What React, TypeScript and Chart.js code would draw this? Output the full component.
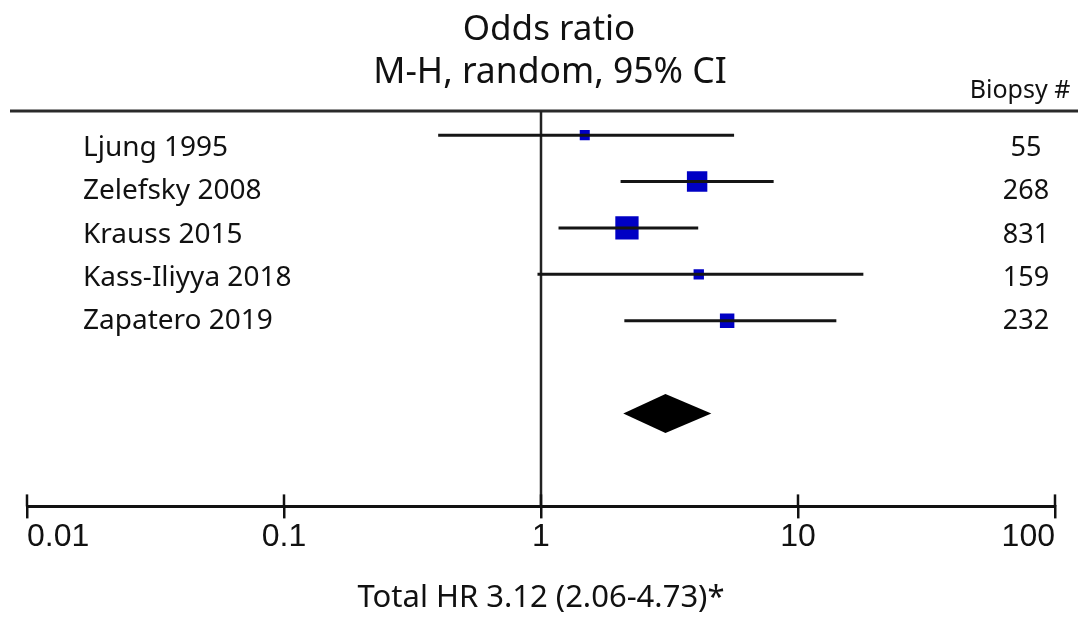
import React, { useEffect, useRef } from "react";
import { Chart, registerables } from "chart.js";

Chart.register(...registerables);

// ---- data ----
const studies = ["Ljung 1995", "Zelefsky 2008", "Krauss 2015", "Kass-Iliyya 2018", "Zapatero 2019"];
const oddsRatio = [1.48, 4.05, 2.16, 4.11, 5.3];
const ciLow = [0.398, 2.04, 1.17, 0.969, 2.11];
const ciHigh = [5.64, 8.04, 4.09, 17.96, 14.1];
const weights = [7.3, 30.3, 39.4, 7.8, 15.2];
const biopsies = ["55", "268", "831", "159", "232"];
const pooledEstimate = 3.05;
const pooledLow = 2.09;
const pooledHigh = 4.6;
const tickValues = [0.01, 0.1, 1, 10, 100];
const tickLabels = ["0.01", "0.1", "1", "10", "100"];
const titleLines = ["Odds ratio", "M-H, random, 95% CI"];
const columnHeader = "Biopsy #";
const footerText = "Total HR 3.12 (2.06-4.73)*";

const TEXT_FONT = "'Noto Sans', 'Open Sans', sans-serif";
const AXIS_FONT = "'Liberation Sans', Arial, sans-serif";
const POOLED_ROW = 6;

const forestPlugin = {
  id: "forestDecor",
  beforeDatasetsDraw(chart: any) {
    const { ctx, chartArea, scales } = chart;
    const x = scales.x;
    ctx.save();
    // top rule
    ctx.strokeStyle = "#2a2a2a";
    ctx.lineWidth = 3;
    ctx.beginPath();
    ctx.moveTo(10, chartArea.top);
    ctx.lineTo(chart.width, chartArea.top);
    ctx.stroke();
    // line of no effect
    const x1 = x.getPixelForValue(1);
    ctx.strokeStyle = "#222";
    ctx.lineWidth = 2.5;
    ctx.beginPath();
    ctx.moveTo(x1, chartArea.top);
    ctx.lineTo(x1, chartArea.bottom);
    ctx.stroke();
    // upper halves of axis ticks
    ctx.lineWidth = 2.5;
    ctx.strokeStyle = "#111";
    tickValues.forEach((v) => {
      const px = x.getPixelForValue(v);
      ctx.beginPath();
      ctx.moveTo(px, chartArea.bottom - 12);
      ctx.lineTo(px, chartArea.bottom);
      ctx.stroke();
    });
    ctx.restore();
  },
  afterDatasetsDraw(chart: any) {
    const { ctx, scales } = chart;
    const x = scales.x;
    const y = scales.y;
    ctx.save();
    // pooled diamond
    const yc = y.getPixelForValue(POOLED_ROW);
    const yt = y.getPixelForValue(POOLED_ROW - 0.42);
    const yb = y.getPixelForValue(POOLED_ROW + 0.42);
    ctx.fillStyle = "#000";
    ctx.beginPath();
    ctx.moveTo(x.getPixelForValue(pooledLow), yc);
    ctx.lineTo(x.getPixelForValue(pooledEstimate), yt);
    ctx.lineTo(x.getPixelForValue(pooledHigh), yc);
    ctx.lineTo(x.getPixelForValue(pooledEstimate), yb);
    ctx.closePath();
    ctx.fill();

    ctx.fillStyle = "#111";
    ctx.textBaseline = "alphabetic";
    // title
    ctx.textAlign = "center";
    ctx.font = `35px ${TEXT_FONT}`;
    ctx.fillText(titleLines[0], 549, 40);
    ctx.font = `35.5px ${TEXT_FONT}`;
    ctx.fillText(titleLines[1], 550, 83);
    // column header
    ctx.font = `25px ${TEXT_FONT}`;
    ctx.fillText(columnHeader, 1020, 98);
    // study labels and counts
    studies.forEach((s, i) => {
      const ty = y.getPixelForValue(0.24 + 0.93 * i) + 10;
      ctx.font = `28px ${TEXT_FONT}`;
      ctx.textAlign = "left";
      ctx.fillText(s, 83, ty);
      ctx.textAlign = "center";
      ctx.font = `27px ${TEXT_FONT}`;
      ctx.fillText(biopsies[i], 1026, ty);
    });
    ctx.restore();
  },
};

export default function App() {
  const ref = useRef<HTMLCanvasElement | null>(null);
  useEffect(() => {
    if (!ref.current) return;
    const ciSets = studies.map((s, i) => ({
      type: "scatter" as const,
      label: s + " CI",
      data: [
        { x: ciLow[i], y: i },
        { x: ciHigh[i], y: i },
      ],
      showLine: true,
      borderColor: "#151515",
      borderWidth: 3,
      pointRadius: 0,
      borderCapStyle: "butt",
    }));
    const markerSet = {
      type: "scatter" as const,
      label: "Odds ratio",
      data: oddsRatio.map((v, i) => ({ x: v, y: i })),
      showLine: false,
      pointStyle: "rect",
      pointRadius: weights.map((w) => (3.71 * Math.sqrt(w)) / Math.SQRT2),
      backgroundColor: "#0000c4",
      borderColor: "#0000c4",
      borderWidth: 0,
    };
    const chart = new Chart(ref.current, {
      type: "scatter",
      data: { datasets: [...ciSets, markerSet] as any },
      plugins: [forestPlugin],
      options: {
        animation: false,
        responsive: false,
        devicePixelRatio: 1,
        layout: { padding: { left: 27, right: 23, top: 111, bottom: 4 } },
        plugins: { legend: { display: false }, tooltip: { enabled: false } },
        scales: {
          x: {
            type: "logarithmic",
            min: 0.01,
            max: 100,
            afterBuildTicks: (scale: any) => {
              scale.ticks = tickValues.map((v) => ({ value: v }));
            },
            ticks: {
              align: "inner",
              padding: 0,
              color: "#111",
              font: { family: AXIS_FONT, size: 32 },
              callback: (value: any) => {
                const idx = tickValues.findIndex((t) => Math.abs(t - value) < 1e-9);
                return idx >= 0 ? tickLabels[idx] : "";
              },
            },
            grid: {
              drawOnChartArea: false,
              drawTicks: true,
              tickLength: 12,
              color: "#111",
              lineWidth: 2.5,
            },
            border: { display: true, color: "#111", width: 3 },
            title: {
              display: true,
              text: footerText,
              color: "#111",
              font: { family: TEXT_FONT, size: 31 },
              padding: { top: 23, bottom: 0 },
            },
          },
          y: {
            type: "linear",
            display: false,
            min: -0.52,
            max: 8,
            reverse: true,
          },
        },
      } as any,
    });
    return () => chart.destroy();
  }, []);
  return (
    <div style={{ position: "absolute", left: 0, top: 0, width: 1078, height: 621, background: "#fff" }}>
      <canvas ref={ref} width={1078} height={621} style={{ display: "block" }} />
    </div>
  );
}
